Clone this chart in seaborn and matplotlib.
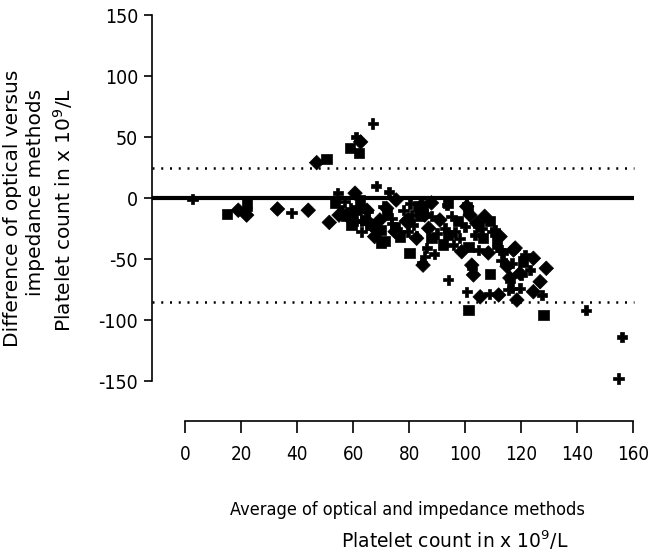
import matplotlib
matplotlib.use("Agg")
import matplotlib.pyplot as plt
import seaborn as sns
import pandas as pd

# ---- data ----
avg = [2.7, 15, 19, 22, 22, 22, 33, 38, 44, 47, 50.5, 51.5, 59, 61, 62.7, 62, 67, 68.3,
       54.5, 53.5, 60.7, 62.5, 72.8, 75.4, 80.4, 83.2, 84.5, 86.3, 88, 93.5, 94, 100.6, 100.6, 101,
       56, 57.7, 59.5, 59, 61.3, 63.1, 65, 66, 68, 69.6, 70.8, 72, 73.8, 75, 76.8, 78, 79.8, 81.5, 84, 85,
       60, 61.2, 64.2, 65.4, 66.5, 69, 70, 72, 73.7, 75, 76.7, 79, 80.8, 85.6, 79.6, 70, 71.5, 82.6,
       80.2, 85.6, 85, 84.5, 67.7, 63, 59.4, 55, 57,
       88, 91, 95.2, 97.6, 100, 87, 90, 94, 96.4, 104.2, 106, 109, 110.7, 112.5, 106.5, 103.6,
       95.8, 98.8, 101.2, 104.8, 108.3, 111.3, 117.9, 114.3, 86.3, 88, 102.4, 92.8, 101.8, 109.5,
       111.3, 82.7, 89, 92, 98, 104.6, 107,
       113, 117.3, 121.4, 124.4, 116.7, 120.8, 123.2, 129, 120.2, 126.8, 119.6, 124.4, 127.4, 118.5,
       128, 143.2, 116, 116.7, 113, 115, 113.6, 119.6, 116, 115.5, 112, 108.7, 105.4, 100.6, 101.2,
       102.4, 103, 109, 94, 156, 154.8]
diff = [-1, -13, -10, -4, -9, -14, -9, -12, -10, 29, 32, -20, 41, 50, 46, 37, 61, 10,
        4, -4, 4, -2, 5, -1.6, -4.4, -7, -6, -5.7, -4, -5.7, -4, -4.4, -7, -10,
        -10, -15, -18, -8.5, -10, -19, -10, -22, -26, -18, -7, -12.6, -20.7, -27.6, -31.6, -10, -18, -22, -15, -10,
        -12.6, -19, -18, -11, -22, -19, -26, -8.5, -16.6, -23.5, -27.6, -19, -14, -14, -27.6, -37, -35, -31.6,
        -45, -48, -55, -53, -31.6, -27.6, -22, -14, -3,
        -15, -18, -15, -19, -23.5, -24.8, -29, -30.3, -27.6, -20.7, -24.8, -19, -26, -31.6, -33, -30.3,
        -38.5, -44, -40, -42.6, -45, -40, -41, -53.5, -41, -33, -55, -24.8, -14, -27.6,
        -34, -33, -46, -38, -33, -23.5, -15,
        -42.6, -42.6, -46.7, -49.4, -53.5, -52, -59, -57.6, -63, -68.6, -74, -76.8, -79.5, -83.6,
        -96, -92, -65.5, -74, -51, -56, -45, -61.8, -68.6, -75, -79.5, -78.7, -81, -76.8, -91.8,
        -57.6, -63, -62, -67, -114, -148]
shapes = (['P', 's', 'D', 's', 'P', 'D', 'D', 'P', 'D', 'D', 's', 'D', 's', 'P', 'D', 's', 'P', 'P',
           'P', 's', 'D', 's', 'P', 'D', 'P', 's', 'D', 'P', 'D', 'P', 's', 'P', 'D', 's']
          + ['P', 's', 'D', 'P', 's', 'P', 'D', 's', 'P', 'D', 'P', 's', 'P', 'D', 's', 'P', 'D', 'P', 's', 'P']
          + ['D', 'P', 's', 'P', 'D', 'P', 's', 'D', 'P', 's', 'P', 'D', 'P', 'D', 'P', 's', 's', 'P']
          + ['s', 'P', 'D', 'P', 'D', 'P', 's', 'D', 'P']
          + ['P', 'D', 'P', 's', 'P', 'D', 'P', 's', 'P', 'D', 'P', 's', 'P', 'D', 's', 'P']
          + ['P', 'D', 's', 'P', 'D', 'P', 'D', 'P', 'P', 's', 'D', 'P', 'D', 'P']
          + ['s', 'D', 'P', 's', 'P', 'P', 'D']
          + ['P', 'D', 'P', 'D', 'P', 's', 'P', 'D', 'P', 'D', 'P', 'D', 'P', 'D']
          + ['s', 'P', 'D', 'P', 'P', 'D', 'P', 'D', 'P', 'P', 'D', 'P', 'D', 'P', 's']
          + ['P', 'D', 's', 'P', 'P', 'P'])
mean_diff = 0
upper_loa = 24.5
lower_loa = -85
xticks = [0, 20, 40, 60, 80, 100, 120, 140, 160]
yticks = [-150, -100, -50, 0, 50, 100, 150]
xlabel_lines = ['Average of optical and impedance methods', 'Platelet count in x 10$^9$/L']
ylabel_lines = ['Difference of optical versus', 'impedance methods', 'Platelet count in x 10$^9$/L']

df = pd.DataFrame({"avg": avg, "diff": diff, "shape": shapes})

sns.set_style("white")
plt.rcParams['font.family'] = ['DejaVu Sans']
plt.rcParams['font.stretch'] = 'condensed'
plt.rcParams['axes.unicode_minus'] = False
plt.rcParams['text.color'] = 'black'
plt.rcParams['axes.labelcolor'] = 'black'
plt.rcParams['xtick.color'] = 'black'
plt.rcParams['ytick.color'] = 'black'
plt.rcParams['mathtext.default'] = 'regular'

fig = plt.figure(figsize=(6.48, 5.55), dpi=100)
ax = fig.add_axes([0.2346, 0.2414, 0.751, 0.7359])

ax.hlines([upper_loa, lower_loa], -11.8, 160.5, colors='black', linewidth=1.8,
          linestyles=[(0, (0.8, 2.7))])
ax.hlines(mean_diff, -11.8, 160.5, colors='black', linewidth=3)

sns.scatterplot(data=df, x="avg", y="diff", style="shape",
                markers={'P': 'P', 's': 's', 'D': 'D'}, color='black',
                edgecolor='black', linewidth=0.5, s=55, legend=False, ax=ax, zorder=3)

ax.set_xlim(-11.8, 162)
ax.set_ylim(-182.8, 152)
ax.set_xticks(xticks)
ax.set_yticks(yticks)
ax.spines['top'].set_visible(False)
ax.spines['right'].set_visible(False)
ax.spines['left'].set_bounds(-150, 150)
ax.spines['bottom'].set_bounds(0, 160)
for s in ('left', 'bottom'):
    ax.spines[s].set_linewidth(1.2)
    ax.spines[s].set_color('black')
ax.tick_params(axis='x', which='both', bottom=True, direction='out', length=8.5,
               width=1.2, labelsize=13.5, pad=9)
ax.tick_params(axis='y', which='both', left=True, direction='out', length=6,
               width=1.2, labelsize=14, pad=4)
ax.set_xlabel('')
ax.set_ylabel('')

# x-axis title (two lines)
fig.text(407 / 648, 1 - 510 / 555, xlabel_lines[0], fontsize=13, ha='center', va='center')
fig.text(455 / 648, 1 - 540 / 555, xlabel_lines[1], fontsize=13.5, fontstretch='normal',
         ha='center', va='center')

# y-axis title (three lines)
fig.text(13 / 648, 1 - 208 / 555, ylabel_lines[0], fontsize=14.5, fontstretch='normal',
         rotation=90, ha='center', va='center')
fig.text(36 / 648, 1 - 192 / 555, ylabel_lines[1], fontsize=14.5, fontstretch='normal',
         rotation=90, ha='center', va='center')
fig.text(63 / 648, 1 - 210 / 555, ylabel_lines[2], fontsize=14.5, fontstretch='normal',
         rotation=90, ha='center', va='center')

fig.savefig("out.png", dpi=100)
